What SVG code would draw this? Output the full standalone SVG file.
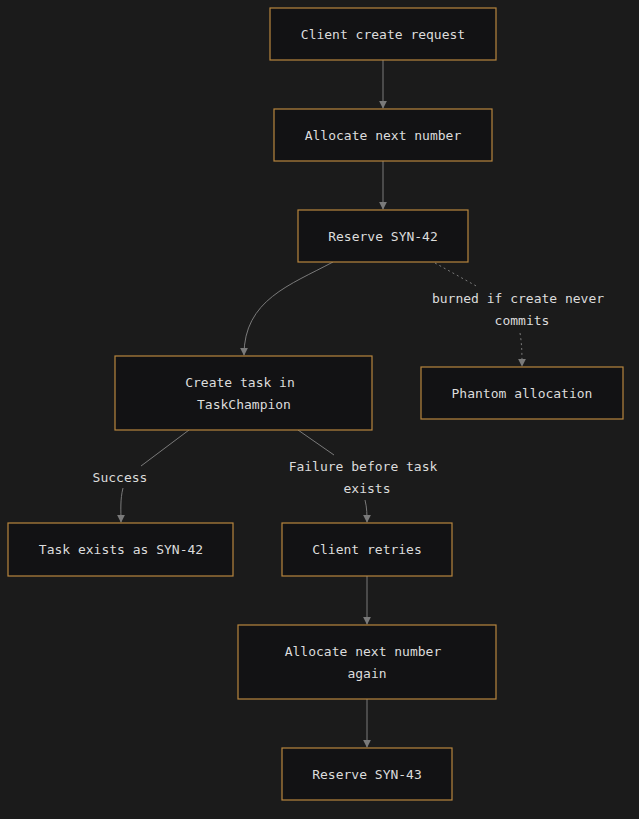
<svg xmlns="http://www.w3.org/2000/svg" width="639" height="819" viewBox="0 0 639 819">
<defs>
<marker id="ah" viewBox="0 0 10 10" refX="9" refY="5" markerWidth="8" markerHeight="8" markerUnits="userSpaceOnUse" orient="auto"><path d="M0,0L10,5L0,10z" fill="#7a7a7a"/></marker>
<style>
.n rect{fill:#121214;stroke:#b8863e;stroke-width:1.2}
text{font-family:"DejaVu Sans Mono","Liberation Mono",monospace;font-size:13px;fill:#dcdcdc;text-anchor:middle;dominant-baseline:central}
.e path{fill:none;stroke:#7a7a7a;stroke-width:1}
.e .a{marker-end:url(#ah)}
.e .d{stroke-dasharray:2,3}
</style>
</defs>
<rect width="639" height="819" fill="#1b1b1b"/>
<g class="e">
<path class="a" d="M383,60V108"/>
<path class="a" d="M383,161V209"/>
<path class="a" d="M333,262C290,285 244,300 244,355"/>
<path class="d" d="M435,263L478,287"/>
<path class="d a" d="M520,333C522,345 522,355 522,366"/>
<path d="M189,430L141,466"/>
<path class="a" d="M123,488C120,500 121,510 121,522"/>
<path d="M298,430L334,455"/>
<path class="a" d="M365,500C367,508 367,515 367,522"/>
<path class="a" d="M367,576V624"/>
<path class="a" d="M367,699V747"/>
<text x="518" y="298">burned if create never</text><text x="522" y="320">commits</text>
<text x="120" y="477">Success</text>
<text x="363" y="466">Failure before task</text><text x="367" y="488">exists</text>
</g>
<g id="n1" class="n"><rect x="270" y="8" width="226" height="52"/><text x="383" y="34">Client create request</text></g>
<g id="n2" class="n"><rect x="274" y="109" width="218" height="52"/><text x="383" y="135">Allocate next number</text></g>
<g id="n3" class="n"><rect x="298" y="210" width="170" height="52"/><text x="383" y="236">Reserve SYN-42</text></g>
<g id="n4" class="n"><rect x="115" y="356" width="257" height="74"/><text x="240" y="382">Create task in</text><text x="244" y="404">TaskChampion</text></g>
<g id="n5" class="n"><rect x="421" y="367" width="202" height="52"/><text x="522" y="393">Phantom allocation</text></g>
<g id="n6" class="n"><rect x="8" y="523" width="225" height="53"/><text x="121" y="549">Task exists as SYN-42</text></g>
<g id="n7" class="n"><rect x="282" y="523" width="170" height="53"/><text x="367" y="549">Client retries</text></g>
<g id="n8" class="n"><rect x="238" y="625" width="258" height="74"/><text x="363" y="651">Allocate next number</text><text x="367" y="673">again</text></g>
<g id="n9" class="n"><rect x="282" y="748" width="170" height="52"/><text x="367" y="774">Reserve SYN-43</text></g>
</svg>
